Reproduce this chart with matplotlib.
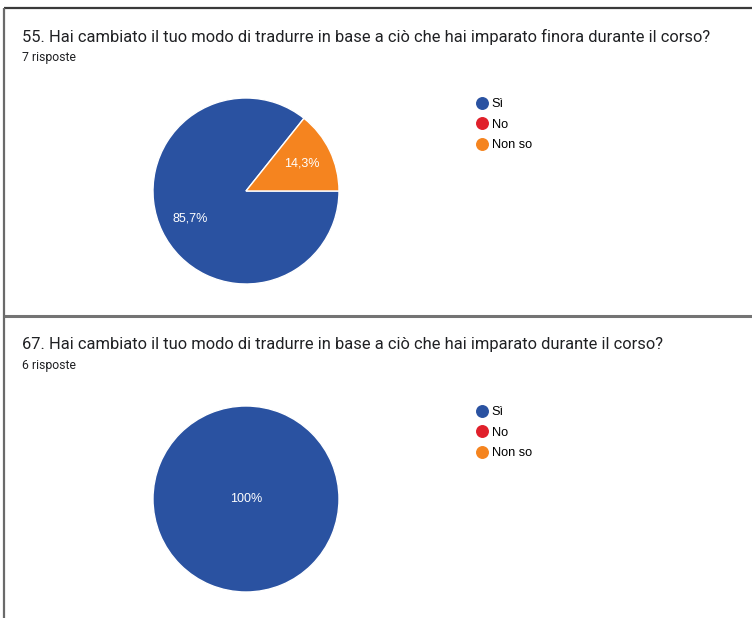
import matplotlib.pyplot as plt
from matplotlib.lines import Line2D

plt.rcParams['font.family'] = ['Roboto', 'DejaVu Sans']
sans = ['Liberation Sans', 'DejaVu Sans']

# survey answers
categories = ['Sì', 'No', 'Non so']
colors = ['#2a52a1', '#e0202b', '#f5841f']

q55_title = '55. Hai cambiato il tuo modo di tradurre in base a ciò che hai imparato finora durante il corso?'
q55_counts = [6, 0, 1]
q55_total = 7

q67_title = '67. Hai cambiato il tuo modo di tradurre in base a ciò che hai imparato durante il corso?'
q67_counts = [6, 0, 0]
q67_total = 6

W, H = 752, 618
fig = plt.figure(figsize=(W / 100, H / 100), dpi=100)
ax = fig.add_axes([0, 0, 1, 1])


def pct_label(p):
    if p <= 0:
        return ''
    s = f'{p:.1f}'.replace('.', ',')
    if s.endswith(',0'):
        s = s[:-2]
    return s + '%'


def panel(top, title, counts, total):
    ax.text(22, H - (top + 29), title, fontsize=11.9, color='#202124',
            va='center', ha='left')
    ax.text(22, H - (top + 50), f'{total} risposte', fontsize=8.8,
            color='#202124', va='center', ha='left')

    cx, cy, r = 246, H - (top + 183), 93
    single = sum(1 for c in counts if c > 0) == 1
    wedges, _, autotexts = ax.pie(
        counts, colors=colors, center=(cx, cy), radius=r,
        startangle=360 * counts[2] / total, counterclock=True,
        autopct=pct_label, pctdistance=0 if single else 0.67,
        wedgeprops=dict(edgecolor='white', linewidth=1),
        textprops=dict(color='white', fontsize=9, family=sans),
        frame=True)
    for w, c in zip(wedges, counts):
        if c == 0:
            w.set_visible(False)

    handles = [Line2D([], [], marker='o', ls='', markersize=8.3,
                      markerfacecolor=col, markeredgecolor=col)
               for col in colors]
    leg = ax.legend(handles, categories, loc='upper left',
                    bbox_to_anchor=(472 / W, 1 - (top + 85) / H),
                    frameon=False, prop=dict(family=sans, size=9.2),
                    handlelength=0.7, handletextpad=0.45,
                    labelspacing=0.68, borderaxespad=0)
    return leg


leg1 = panel(8, q55_title, q55_counts, q55_total)
ax.add_artist(leg1)
panel(316, q67_title, q67_counts, q67_total)

ax.set_xlim(0, W)
ax.set_ylim(0, H)
ax.set_aspect('auto')
ax.axis('off')

# frame lines
ax.plot([4, W], [H - 8, H - 8], color='#3a3a3a', lw=1.6, solid_capstyle='butt')
ax.plot([4, 4], [H - 8, 0], color='#6a6a6a', lw=1.6, solid_capstyle='butt')
ax.plot([4, W], [H - 316, H - 316], color='#747474', lw=2.2, solid_capstyle='butt')

fig.savefig('out.png', dpi=100, facecolor='white')
